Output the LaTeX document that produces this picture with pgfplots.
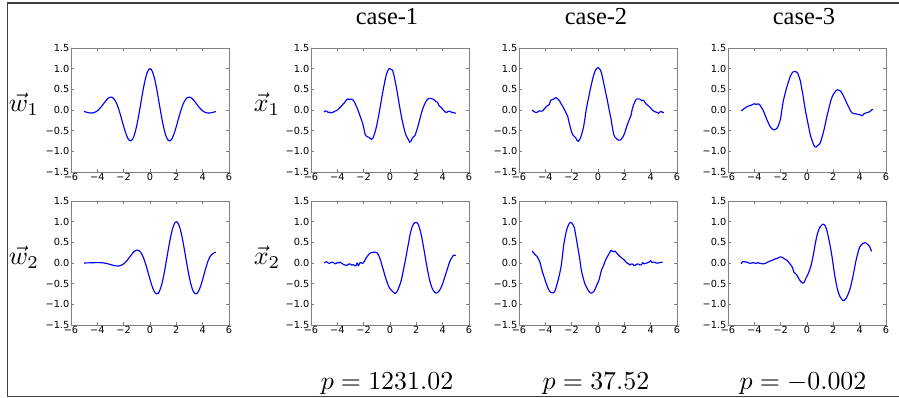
\documentclass[border=0pt]{standalone}
\usepackage{fix-cm}
\usepackage{fontspec}
\usepackage{graphicx}
\usepackage{pgfplots}
\pgfplotsset{compat=1.18}
\newfontfamily\dejavu{DejaVu Sans}
\newfontfamily\titlefont{Liberation Serif}
\definecolor{framegray}{gray}{0.5}
\definecolor{mplblue}{RGB}{0,0,255}
\pgfplotsset{panel/.style={anchor=south west, scale only axis, width=158bp, height=124bp,
  xmin=-6, xmax=6, ymin=-1.5, ymax=1.5,
  xtick={-6,-4,-2,0,2,4,6}, xticklabels={−6,−4,−2,0,2,4,6},
  ytick={-1.5,-1,-0.5,0,0.5,1,1.5}, yticklabels={−1.5,−1.0,−0.5,0.0,0.5,1.0,1.5},
  axis line style={framegray, line width=0.8bp},
  every tick/.style={framegray, line width=0.6bp}, major tick length=3bp, tick align=inside,
  tick label style={font=\dejavu\fontsize{9.8}{10}\selectfont, inner sep=1.5bp}},
  curve/.style={draw=mplblue, line width=1.15bp, line join=round, mark=none}}
\newcommand{\bigmath}[1]{\scalebox{2.6}{\fontsize{10}{12}\selectfont$#1$}}
\begin{document}
\begin{tikzpicture}
\path[use as bounding box] (0,0) rectangle (899bp,398bp);
\draw[black!75, line width=1.3bp] (899bp,395bp) -- (7.3bp,395bp) -- (7.3bp,1.5bp) -- (899bp,1.5bp);
% titles
\node[anchor=base, font=\titlefont\fontsize{24.5}{27}\selectfont] at (387bp,373bp) {case-1};
\node[anchor=base, font=\titlefont\fontsize{24.5}{27}\selectfont] at (596bp,373bp) {case-2};
\node[anchor=base, font=\titlefont\fontsize{24.5}{27}\selectfont] at (804bp,373bp) {case-3};
% row labels
\node[anchor=base, inner sep=0pt] at (24bp,286bp) {\bigmath{\vec{w}_1}};
\node[anchor=base, inner sep=0pt] at (24bp,133bp) {\bigmath{\vec{w}_2}};
\node[anchor=base, inner sep=0pt] at (267bp,286bp) {\bigmath{\vec{x}_1}};
\node[anchor=base, inner sep=0pt] at (267bp,133bp) {\bigmath{\vec{x}_2}};
% p values
\node[anchor=base, inner sep=0pt] at (387bp,9bp) {\bigmath{p=1231.02}};
\node[anchor=base, inner sep=0pt] at (596bp,9bp) {\bigmath{p=37.52}};
\node[anchor=base, inner sep=0pt] at (803bp,9bp) {\bigmath{p=-0.002}};

% w1
\begin{axis}[panel, at={(71bp,226bp)}]
\addplot[curve] coordinates {(-5,-0.037)(-4.9,-0.046)(-4.8,-0.055)(-4.7,-0.063)(-4.6,-0.069)(-4.5,-0.072)(-4.4,-0.072)(-4.3,-0.067)(-4.2,-0.057)(-4.1,-0.041)(-4,-0.020)(-3.9,0.008)(-3.8,0.041)(-3.7,0.079)(-3.6,0.120)(-3.5,0.163)(-3.4,0.205)(-3.3,0.244)(-3.2,0.276)(-3.1,0.300)(-3,0.312)(-2.9,0.309)(-2.8,0.291)(-2.7,0.255)(-2.6,0.201)(-2.5,0.130)(-2.4,0.043)(-2.3,-0.058)(-2.2,-0.168)(-2.1,-0.283)(-2,-0.396)(-1.9,-0.504)(-1.8,-0.598)(-1.7,-0.674)(-1.6,-0.725)(-1.5,-0.747)(-1.4,-0.737)(-1.3,-0.694)(-1.2,-0.616)(-1.1,-0.506)(-1,-0.367)(-0.9,-0.205)(-0.8,-0.027)(-0.7,0.160)(-0.6,0.346)(-0.5,0.524)(-0.4,0.683)(-0.3,0.816)(-0.2,0.916)(-0.1,0.979)(0,1.000)(0.1,0.979)(0.2,0.916)(0.3,0.816)(0.4,0.683)(0.5,0.524)(0.6,0.346)(0.7,0.160)(0.8,-0.027)(0.9,-0.205)(1,-0.367)(1.1,-0.506)(1.2,-0.616)(1.3,-0.694)(1.4,-0.737)(1.5,-0.747)(1.6,-0.725)(1.7,-0.674)(1.8,-0.598)(1.9,-0.504)(2,-0.396)(2.1,-0.283)(2.2,-0.168)(2.3,-0.058)(2.4,0.043)(2.5,0.130)(2.6,0.201)(2.7,0.255)(2.8,0.291)(2.9,0.309)(3,0.312)(3.1,0.300)(3.2,0.276)(3.3,0.244)(3.4,0.205)(3.5,0.163)(3.6,0.120)(3.7,0.079)(3.8,0.041)(3.9,0.008)(4,-0.020)(4.1,-0.041)(4.2,-0.057)(4.3,-0.067)(4.4,-0.072)(4.5,-0.072)(4.6,-0.069)(4.7,-0.063)(4.8,-0.055)(4.9,-0.046)(5,-0.037)};
\end{axis}
% w2
\begin{axis}[panel, at={(71bp,73bp)}]
\addplot[curve] coordinates {(-5,0)(-4.9,0.001)(-4.8,0.002)(-4.7,0.002)(-4.6,0.004)(-4.5,0.005)(-4.4,0.006)(-4.3,0.007)(-4.2,0.008)(-4.1,0.009)(-4,0.009)(-3.9,0.009)(-3.8,0.008)(-3.7,0.007)(-3.6,0.004)(-3.5,0)(-3.4,-0.005)(-3.3,-0.012)(-3.2,-0.019)(-3.1,-0.028)(-3,-0.037)(-2.9,-0.046)(-2.8,-0.055)(-2.7,-0.063)(-2.6,-0.069)(-2.5,-0.072)(-2.4,-0.072)(-2.3,-0.067)(-2.2,-0.057)(-2.1,-0.041)(-2,-0.020)(-1.9,0.008)(-1.8,0.041)(-1.7,0.079)(-1.6,0.120)(-1.5,0.163)(-1.4,0.205)(-1.3,0.244)(-1.2,0.276)(-1.1,0.300)(-1,0.312)(-0.9,0.309)(-0.8,0.291)(-0.7,0.255)(-0.6,0.201)(-0.5,0.130)(-0.4,0.043)(-0.3,-0.058)(-0.2,-0.168)(-0.1,-0.283)(0,-0.396)(0.1,-0.504)(0.2,-0.598)(0.3,-0.674)(0.4,-0.725)(0.5,-0.747)(0.6,-0.737)(0.7,-0.694)(0.8,-0.616)(0.9,-0.506)(1,-0.367)(1.1,-0.205)(1.2,-0.027)(1.3,0.160)(1.4,0.346)(1.5,0.524)(1.6,0.683)(1.7,0.816)(1.8,0.916)(1.9,0.979)(2,1.000)(2.1,0.979)(2.2,0.916)(2.3,0.816)(2.4,0.683)(2.5,0.524)(2.6,0.346)(2.7,0.160)(2.8,-0.027)(2.9,-0.205)(3,-0.367)(3.1,-0.506)(3.2,-0.616)(3.3,-0.694)(3.4,-0.737)(3.5,-0.747)(3.6,-0.725)(3.7,-0.674)(3.8,-0.598)(3.9,-0.504)(4,-0.396)(4.1,-0.283)(4.2,-0.168)(4.3,-0.058)(4.4,0.043)(4.5,0.12)(4.6,0.175)(4.7,0.21)(4.8,0.235)(4.9,0.25)(5,0.26)};
\end{axis}
% case-1 x1
\begin{axis}[panel, at={(311bp,226bp)}]
\addplot[curve] coordinates {(-5,-0.05)(-4.9,-0.02)(-4.8,-0.03)(-4.7,-0.06)(-4.6,-0.05)(-4.5,-0.07)(-4.4,-0.06)(-4.3,-0.05)(-4.2,-0.03)(-4.1,-0.02)(-4,0)(-3.9,0.03)(-3.8,0.06)(-3.7,0.09)(-3.6,0.13)(-3.5,0.16)(-3.4,0.2)(-3.3,0.25)(-3.2,0.27)(-3.1,0.25)(-3,0.26)(-2.9,0.26)(-2.8,0.24)(-2.7,0.19)(-2.6,0.12)(-2.5,0.05)(-2.4,-0.03)(-2.3,-0.12)(-2.2,-0.21)(-2.1,-0.3)(-2,-0.42)(-1.9,-0.58)(-1.8,-0.63)(-1.7,-0.65)(-1.6,-0.66)(-1.5,-0.69)(-1.4,-0.71)(-1.3,-0.68)(-1.2,-0.6)(-1.1,-0.5)(-1,-0.36)(-0.9,-0.2)(-0.8,-0.03)(-0.7,0.16)(-0.6,0.34)(-0.5,0.52)(-0.4,0.68)(-0.3,0.83)(-0.2,0.93)(-0.1,0.99)(0,1)(0.1,0.98)(0.2,0.96)(0.3,0.84)(0.4,0.68)(0.5,0.52)(0.6,0.33)(0.7,0.14)(0.8,-0.04)(0.9,-0.21)(1,-0.36)(1.1,-0.49)(1.2,-0.6)(1.3,-0.66)(1.4,-0.72)(1.5,-0.78)(1.6,-0.75)(1.7,-0.68)(1.8,-0.64)(1.9,-0.62)(2,-0.52)(2.1,-0.42)(2.2,-0.3)(2.3,-0.18)(2.4,-0.06)(2.5,0.04)(2.6,0.12)(2.7,0.19)(2.8,0.24)(2.9,0.27)(3,0.28)(3.1,0.28)(3.2,0.27)(3.3,0.26)(3.4,0.23)(3.5,0.2)(3.6,0.19)(3.7,0.12)(3.8,0.08)(3.9,0.06)(4,0.02)(4.1,-0.02)(4.2,-0.05)(4.3,-0.06)(4.4,-0.04)(4.5,-0.03)(4.6,-0.04)(4.7,-0.06)(4.8,-0.06)(4.9,-0.07)(5,-0.08)};
\end{axis}
% case-1 x2
\begin{axis}[panel, at={(311bp,73bp)}]
\addplot[curve] coordinates {(-5,0)(-4.9,0.02)(-4.8,0.03)(-4.7,0)(-4.6,-0.01)(-4.5,0.01)(-4.4,0.02)(-4.3,0.01)(-4.2,-0.02)(-4.1,-0.01)(-4,0.01)(-3.9,0)(-3.8,0.02)(-3.7,0)(-3.6,-0.02)(-3.5,-0.04)(-3.4,-0.05)(-3.3,-0.06)(-3.2,-0.04)(-3.1,-0.02)(-3,-0.03)(-2.9,-0.05)(-2.8,-0.04)(-2.7,-0.06)(-2.6,-0.07)(-2.5,0)(-2.4,-0.07)(-2.3,0)(-2.2,0.01)(-2.1,-0.01)(-2,0.01)(-1.9,0.07)(-1.8,0.13)(-1.7,0.17)(-1.6,0.21)(-1.5,0.24)(-1.4,0.25)(-1.3,0.26)(-1.2,0.26)(-1.1,0.26)(-1,0.25)(-0.9,0.21)(-0.8,0.14)(-0.7,0.05)(-0.6,-0.07)(-0.5,-0.17)(-0.4,-0.29)(-0.3,-0.39)(-0.2,-0.48)(-0.1,-0.57)(0,-0.62)(0.1,-0.66)(0.2,-0.69)(0.3,-0.72)(0.4,-0.74)(0.5,-0.71)(0.6,-0.65)(0.7,-0.57)(0.8,-0.48)(0.9,-0.36)(1,-0.2)(1.1,-0.04)(1.2,0.12)(1.3,0.3)(1.4,0.47)(1.5,0.65)(1.6,0.79)(1.7,0.89)(1.8,0.95)(1.9,0.98)(2,0.98)(2.1,0.96)(2.2,0.89)(2.3,0.78)(2.4,0.64)(2.5,0.47)(2.6,0.29)(2.7,0.1)(2.8,-0.08)(2.9,-0.25)(3,-0.4)(3.1,-0.52)(3.2,-0.61)(3.3,-0.67)(3.4,-0.71)(3.5,-0.73)(3.6,-0.72)(3.7,-0.69)(3.8,-0.64)(3.9,-0.58)(4,-0.5)(4.1,-0.4)(4.2,-0.3)(4.3,-0.2)(4.4,-0.1)(4.5,0)(4.6,0.08)(4.7,0.13)(4.8,0.18)(4.9,0.19)(5,0.18)};
\end{axis}
% case-2 x1
\begin{axis}[panel, at={(519bp,226bp)}]
\addplot[curve] coordinates {(-5,0)(-4.9,-0.03)(-4.8,-0.05)(-4.7,-0.06)(-4.6,-0.05)(-4.5,-0.03)(-4.4,-0.02)(-4.3,-0.03)(-4.2,-0.02)(-4.1,0.02)(-4,0.05)(-3.9,0.09)(-3.8,0.11)(-3.7,0.13)(-3.6,0.23)(-3.5,0.25)(-3.4,0.26)(-3.3,0.28)(-3.2,0.3)(-3.1,0.28)(-3,0.25)(-2.9,0.21)(-2.8,0.15)(-2.7,0.1)(-2.6,0.04)(-2.5,-0.02)(-2.4,-0.09)(-2.3,-0.15)(-2.2,-0.3)(-2.1,-0.42)(-2,-0.54)(-1.9,-0.61)(-1.8,-0.64)(-1.7,-0.67)(-1.6,-0.73)(-1.5,-0.76)(-1.4,-0.72)(-1.3,-0.65)(-1.2,-0.54)(-1.1,-0.42)(-1,-0.22)(-0.9,0)(-0.8,0.17)(-0.7,0.32)(-0.6,0.48)(-0.5,0.62)(-0.4,0.76)(-0.3,0.87)(-0.2,0.96)(-0.1,1)(0,1.03)(0.1,1)(0.2,0.96)(0.3,0.85)(0.4,0.7)(0.5,0.55)(0.6,0.4)(0.7,0.25)(0.8,0.08)(0.9,-0.08)(1,-0.23)(1.1,-0.44)(1.2,-0.6)(1.3,-0.66)(1.4,-0.69)(1.5,-0.72)(1.6,-0.73)(1.7,-0.73)(1.8,-0.69)(1.9,-0.65)(2,-0.58)(2.1,-0.48)(2.2,-0.38)(2.3,-0.3)(2.4,-0.21)(2.5,-0.14)(2.6,0.02)(2.7,0.12)(2.8,0.2)(2.9,0.26)(3,0.27)(3.1,0.27)(3.2,0.26)(3.3,0.23)(3.4,0.24)(3.5,0.22)(3.6,0.17)(3.7,0.13)(3.8,0.11)(3.9,0.08)(4,0.05)(4.1,0.01)(4.2,-0.02)(4.3,-0.04)(4.4,-0.05)(4.5,-0.06)(4.6,-0.08)(4.7,-0.05)(4.8,-0.03)(4.9,-0.06)(5,-0.06)};
\end{axis}
% case-2 x2
\begin{axis}[panel, at={(519bp,73bp)}]
\addplot[curve] coordinates {(-5,0.29)(-4.9,0.25)(-4.8,0.21)(-4.7,0.18)(-4.6,0.15)(-4.5,0.08)(-4.4,0.01)(-4.3,-0.12)(-4.2,-0.24)(-4.1,-0.33)(-4,-0.43)(-3.9,-0.52)(-3.8,-0.61)(-3.7,-0.67)(-3.6,-0.71)(-3.5,-0.72)(-3.4,-0.72)(-3.3,-0.7)(-3.2,-0.61)(-3.1,-0.5)(-3,-0.38)(-2.9,-0.24)(-2.8,-0.08)(-2.7,0.17)(-2.6,0.45)(-2.5,0.62)(-2.4,0.78)(-2.3,0.88)(-2.2,0.95)(-2.1,0.98)(-2,0.97)(-1.9,0.93)(-1.8,0.86)(-1.7,0.69)(-1.6,0.5)(-1.5,0.31)(-1.4,0.13)(-1.3,-0.11)(-1.2,-0.27)(-1.1,-0.39)(-1,-0.5)(-0.9,-0.57)(-0.8,-0.63)(-0.7,-0.68)(-0.6,-0.72)(-0.5,-0.73)(-0.4,-0.71)(-0.3,-0.68)(-0.2,-0.62)(-0.1,-0.54)(0,-0.47)(0.1,-0.39)(0.2,-0.25)(0.3,-0.14)(0.4,-0.08)(0.5,0.01)(0.6,0.09)(0.7,0.15)(0.8,0.2)(0.9,0.26)(1,0.31)(1.1,0.28)(1.2,0.27)(1.3,0.29)(1.4,0.25)(1.5,0.21)(1.6,0.18)(1.7,0.15)(1.8,0.12)(1.9,0.1)(2,0.07)(2.1,0.03)(2.2,0)(2.3,-0.01)(2.4,-0.05)(2.5,-0.03)(2.6,-0.02)(2.7,-0.05)(2.8,-0.06)(2.9,-0.04)(3,-0.02)(3.1,-0.03)(3.2,-0.05)(3.3,-0.04)(3.4,0.01)(3.5,-0.02)(3.6,-0.01)(3.7,0)(3.8,0.01)(3.9,0.03)(4,0.06)(4.1,0.01)(4.2,0.02)(4.3,0.02)(4.4,0)(4.5,0)(4.6,0)(4.7,0.01)(4.8,0.01)(4.9,0.03)};
\end{axis}
% case-3 x1
\begin{axis}[panel, at={(728bp,226bp)}]
\addplot[curve] coordinates {(-5,-0.02)(-4.9,0)(-4.8,0.03)(-4.7,0.05)(-4.6,0.07)(-4.5,0.09)(-4.4,0.1)(-4.3,0.11)(-4.2,0.12)(-4.1,0.14)(-4,0.15)(-3.9,0.14)(-3.8,0.14)(-3.7,0.15)(-3.6,0.13)(-3.5,0.08)(-3.4,0.03)(-3.3,-0.03)(-3.2,-0.11)(-3.1,-0.19)(-3,-0.27)(-2.9,-0.34)(-2.8,-0.4)(-2.7,-0.44)(-2.6,-0.47)(-2.5,-0.48)(-2.4,-0.47)(-2.3,-0.45)(-2.2,-0.4)(-2.1,-0.31)(-2,-0.2)(-1.9,0.02)(-1.8,0.22)(-1.7,0.35)(-1.6,0.48)(-1.5,0.59)(-1.4,0.69)(-1.3,0.79)(-1.2,0.86)(-1.1,0.91)(-1,0.93)(-0.9,0.93)(-0.8,0.92)(-0.7,0.89)(-0.6,0.8)(-0.5,0.7)(-0.4,0.52)(-0.3,0.35)(-0.2,0.14)(-0.1,-0.05)(0,-0.21)(0.1,-0.37)(0.2,-0.53)(0.3,-0.66)(0.4,-0.75)(0.5,-0.84)(0.6,-0.89)(0.7,-0.9)(0.8,-0.86)(0.9,-0.84)(1,-0.8)(1.1,-0.7)(1.2,-0.59)(1.3,-0.47)(1.4,-0.32)(1.5,-0.17)(1.6,-0.04)(1.7,0.09)(1.8,0.22)(1.9,0.31)(2,0.38)(2.1,0.42)(2.2,0.47)(2.3,0.49)(2.4,0.48)(2.5,0.47)(2.6,0.44)(2.7,0.38)(2.8,0.32)(2.9,0.25)(3,0.18)(3.1,0.11)(3.2,0.05)(3.3,-0.02)(3.4,-0.06)(3.5,-0.08)(3.6,-0.09)(3.7,-0.09)(3.8,-0.1)(3.9,-0.11)(4,-0.11)(4.1,-0.13)(4.2,-0.14)(4.3,-0.1)(4.4,-0.08)(4.5,-0.07)(4.6,-0.06)(4.7,-0.05)(4.8,-0.03)(4.9,0)(5,0.02)};
\end{axis}
% case-3 x2
\begin{axis}[panel, at={(728bp,73bp)}]
\addplot[curve] coordinates {(-5,-0.02)(-4.9,0.03)(-4.8,0.03)(-4.7,0.03)(-4.6,0.02)(-4.5,0.01)(-4.4,0)(-4.3,-0.01)(-4.2,0)(-4.1,0.01)(-4,0)(-3.9,-0.01)(-3.8,0)(-3.7,0.01)(-3.6,-0.01)(-3.5,-0.01)(-3.4,-0.02)(-3.3,-0.02)(-3.2,-0.01)(-3.1,0)(-3,0.02)(-2.9,0.03)(-2.8,0.05)(-2.7,0.06)(-2.6,0.07)(-2.5,0.09)(-2.4,0.1)(-2.3,0.11)(-2.2,0.12)(-2.1,0.14)(-2,0.15)(-1.9,0.14)(-1.8,0.12)(-1.7,0.1)(-1.6,0.08)(-1.5,0.06)(-1.4,0.02)(-1.3,-0.02)(-1.2,-0.06)(-1.1,-0.11)(-1,-0.22)(-0.9,-0.25)(-0.8,-0.28)(-0.7,-0.33)(-0.6,-0.39)(-0.5,-0.44)(-0.4,-0.47)(-0.3,-0.49)(-0.2,-0.46)(-0.1,-0.38)(0,-0.32)(0.1,-0.25)(0.2,-0.17)(0.3,-0.07)(0.4,0.07)(0.5,0.23)(0.6,0.42)(0.7,0.58)(0.8,0.72)(0.9,0.81)(1,0.88)(1.1,0.91)(1.2,0.94)(1.3,0.93)(1.4,0.89)(1.5,0.8)(1.6,0.66)(1.7,0.51)(1.8,0.34)(1.9,0.15)(2,-0.07)(2.1,-0.29)(2.2,-0.47)(2.3,-0.62)(2.4,-0.73)(2.5,-0.81)(2.6,-0.86)(2.7,-0.9)(2.8,-0.91)(2.9,-0.88)(3,-0.84)(3.1,-0.77)(3.2,-0.69)(3.3,-0.59)(3.4,-0.45)(3.5,-0.31)(3.6,-0.14)(3.7,0.03)(3.8,0.16)(3.9,0.29)(4,0.38)(4.1,0.43)(4.2,0.46)(4.3,0.48)(4.4,0.49)(4.5,0.48)(4.6,0.45)(4.7,0.42)(4.8,0.37)(4.9,0.28)};
\end{axis}
\end{tikzpicture}
\end{document}
